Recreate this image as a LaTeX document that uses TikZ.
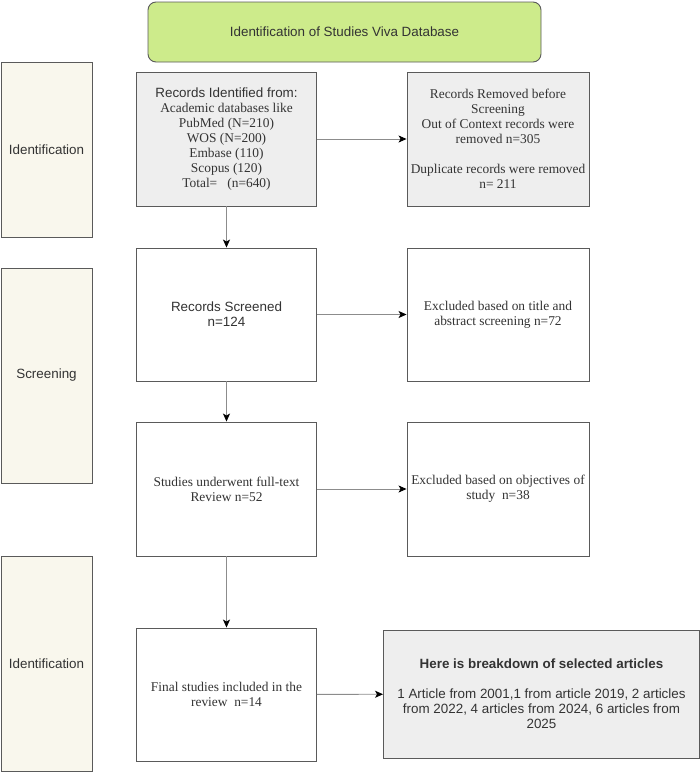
\documentclass[tikz,border=0pt]{standalone}
\usepackage{fontspec}
\setmainfont{Liberation Serif}
\setsansfont{Liberation Sans}
\usepackage{xcolor}
\usepackage{tikz}
\usetikzlibrary{arrows.meta,positioning}
\definecolor{lime}{HTML}{CDEB8B}
\definecolor{cream}{HTML}{F9F7ED}
\definecolor{pale}{HTML}{EEEEEE}
\definecolor{edge}{HTML}{5A5A5A}
\definecolor{link}{HTML}{8C8C8C}
\definecolor{ink}{HTML}{333333}
\tikzset{
    box/.style={draw=edge,line width=0.9pt,fill=white,inner sep=1pt,align=center,
        text=ink,font=\fontsize{13.4}{15}\selectfont},
    phase/.style={box,fill=cream,minimum width=91pt,font=\sffamily\fontsize{13.4}{15}\selectfont},
    flow/.style={draw=link,line width=0.9pt,-{Stealth[length=8pt,width=7pt,inset=2pt,color=black]}}
}

\begin{document}
\begin{tikzpicture}[x=1pt,y=-1pt]
        \useasboundingbox (0,0) rectangle (700,772);

        % header
        \node[box,fill=lime,rounded corners=8pt,minimum width=393pt,minimum height=60pt,
            font=\sffamily\fontsize{13.4}{15}\selectfont] (head) at (344.5,32)
            {Identification of Studies Viva Database};

        % phases on the left
        \node[phase,minimum height=175pt] (phaseid) at (46.5,149.5) {Identification};
        \node[phase,minimum height=215pt] (phasescr) at (46.5,375.5) {Screening};
        \node[phase,minimum height=215pt] (phaseinc) at (46.5,663.5) {Identification};

        % main column
        \node[box,fill=pale,minimum width=180pt,minimum height=134pt] (recid) at (226.5,139)
            {{\sffamily Records Identified from:}\\ Academic databases like\\ PubMed (N=210)\\
            WOS (N=200)\\ Embase (110)\\ Scopus (120)\\ Total=\ \ \ (n=640)};
        \node[box,minimum width=180pt,minimum height=133pt,font=\sffamily\fontsize{13.4}{15}\selectfont]
            (screened) at (226.5,314.5) {Records Screened\\ n=124};
        \node[box,minimum width=180pt,minimum height=134pt] (fulltext) at (226.5,489)
            {Studies underwent full-text\\ Review n=52};
        \node[box,minimum width=180pt,minimum height=133pt] (final) at (226.5,694.5)
            {Final studies included in the\\ review\ \ n=14};

        % right column
        \node[box,fill=pale,minimum width=182pt,minimum height=134pt] (removed) at (498,139)
            {Records Removed before\\ Screening\\ Out of Context records were\\ removed n=305\\[15pt]
            Duplicate records were removed\\ n= 211};
        \node[box,minimum width=182pt,minimum height=133pt] (exclta) at (498,314.5)
            {Excluded based on title and\\ abstract screening n=72};
        \node[box,minimum width=182pt,minimum height=134pt] (exclobj) at (498,489)
            {Excluded based on objectives of\\ study\ \ n=38};
        \node[box,fill=pale,minimum width=316pt,minimum height=128pt,
            font=\sffamily\fontsize{13.4}{15}\selectfont] (breakdown) at (541.5,694)
            {\textbf{Here is breakdown of selected articles}\\[15pt]
            1 Article from 2001,1 from article 2019, 2 articles\\
            from 2022, 4 articles from 2024, 6 articles from\\ 2025};

        % connectors
        \draw[flow] (recid) -- (removed);
        \draw[flow] (screened) -- (exclta);
        \draw[flow] (fulltext) -- (exclobj);
        \draw[flow] (final) -- (breakdown);
        \draw[flow] (recid) -- (screened);
        \draw[flow] (screened) -- (fulltext);
        \draw[flow] (fulltext) -- (final);
\end{tikzpicture}
\end{document}
